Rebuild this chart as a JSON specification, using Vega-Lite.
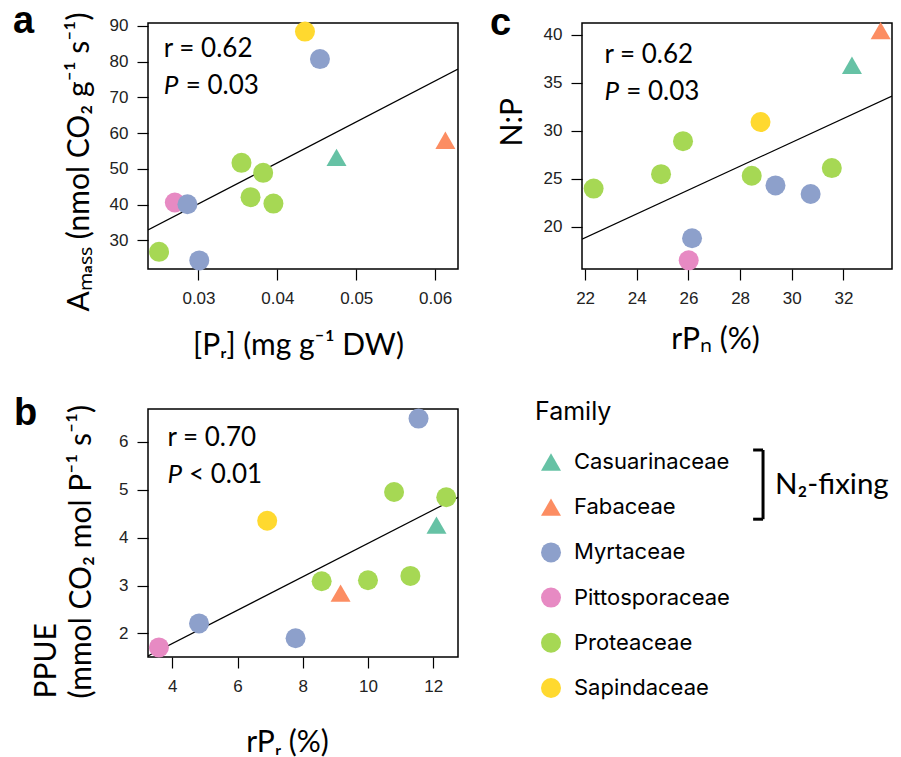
{
  "$schema": "https://vega.github.io/schema/vega-lite/v6.json",
  "padding": {"left": 12, "top": 2, "right": 5, "bottom": 0},
  "background": "white",
  "datasets": {
    "panelA": [
      {"Family": "Sapindaceae", "x": 0.0435, "y": 88.4},
      {"Family": "Myrtaceae", "x": 0.0454, "y": 80.7},
      {"Family": "Fabaceae", "x": 0.0613, "y": 58.0},
      {"Family": "Casuarinaceae", "x": 0.0475, "y": 53.2},
      {"Family": "Proteaceae", "x": 0.03545, "y": 51.7},
      {"Family": "Proteaceae", "x": 0.0382, "y": 48.9},
      {"Family": "Proteaceae", "x": 0.0366, "y": 42.1},
      {"Family": "Proteaceae", "x": 0.0395, "y": 40.3},
      {"Family": "Pittosporaceae", "x": 0.0270, "y": 40.6},
      {"Family": "Myrtaceae", "x": 0.0286, "y": 40.1},
      {"Family": "Proteaceae", "x": 0.0250, "y": 26.8},
      {"Family": "Myrtaceae", "x": 0.0301, "y": 24.4}
    ],
    "panelC": [
      {"Family": "Fabaceae", "x": 33.44, "y": 40.4},
      {"Family": "Casuarinaceae", "x": 32.33, "y": 36.8},
      {"Family": "Sapindaceae", "x": 28.79, "y": 30.9},
      {"Family": "Proteaceae", "x": 25.79, "y": 28.9},
      {"Family": "Proteaceae", "x": 24.94, "y": 25.47},
      {"Family": "Proteaceae", "x": 22.33, "y": 23.97},
      {"Family": "Proteaceae", "x": 28.45, "y": 25.3},
      {"Family": "Myrtaceae", "x": 29.37, "y": 24.3},
      {"Family": "Myrtaceae", "x": 30.73, "y": 23.4},
      {"Family": "Proteaceae", "x": 31.55, "y": 26.1},
      {"Family": "Myrtaceae", "x": 26.14, "y": 18.8},
      {"Family": "Pittosporaceae", "x": 26.01, "y": 16.5}
    ],
    "panelB": [
      {"Family": "Myrtaceae", "x": 11.55, "y": 6.48},
      {"Family": "Proteaceae", "x": 10.8, "y": 4.95},
      {"Family": "Proteaceae", "x": 12.4, "y": 4.84},
      {"Family": "Sapindaceae", "x": 6.91, "y": 4.35},
      {"Family": "Casuarinaceae", "x": 12.1, "y": 4.26},
      {"Family": "Proteaceae", "x": 8.58, "y": 3.09},
      {"Family": "Proteaceae", "x": 10.0, "y": 3.11},
      {"Family": "Proteaceae", "x": 11.3, "y": 3.2},
      {"Family": "Fabaceae", "x": 9.16, "y": 2.84},
      {"Family": "Myrtaceae", "x": 4.82, "y": 2.21},
      {"Family": "Myrtaceae", "x": 7.78, "y": 1.9},
      {"Family": "Pittosporaceae", "x": 3.59, "y": 1.71}
    ],
    "fitA": [{"x": 0.0236, "y": 32.9}, {"x": 0.0629, "y": 77.9}],
    "fitC": [{"x": 21.88, "y": 18.7}, {"x": 33.88, "y": 33.6}],
    "fitB": [{"x": 3.255, "y": 1.53}, {"x": 12.76, "y": 4.84}],
    "families": [
      {"Family": "Casuarinaceae"},
      {"Family": "Fabaceae"},
      {"Family": "Myrtaceae"},
      {"Family": "Pittosporaceae"},
      {"Family": "Proteaceae"},
      {"Family": "Sapindaceae"}
    ]
  },
  "config": {
    "view": {"stroke": "black", "strokeWidth": 1.5},
    "axis": {
      "grid": false, "domain": false, "tickColor": "black", "tickSize": 11, "tickWidth": 1.2,
      "labelFont": "Liberation Sans", "labelFontSize": 17, "labelColor": "#222", "labelPadding": 9,
      "labelFlush": false, "labelOverlap": false,
      "titleFont": "Lato", "titleFontSize": 30, "titleFontWeight": "normal", "titleColor": "black"
    },
    "axisX": {"labelPadding": 10},
    "title": {"anchor": "start", "frame": "group", "baseline": "alphabetic", "offset": 4, "color": "black"},
    "text": {"font": "Lato", "fontSize": 26, "color": "black"}
  },
  "vconcat": [
    {
      "hconcat": [
        {
          "width": 310, "height": 246,
          "title": {"text": "a", "font": "Liberation Sans", "fontSize": 38, "fontWeight": "bold", "dx": -135, "dy": 33},
          "layer": [
            {
              "data": {"name": "fitA"},
              "mark": {"type": "line", "color": "black", "strokeWidth": 1.2, "clip": true},
              "encoding": {
                "x": {"field": "x", "type": "quantitative", "scale": {"domain": [0.0236, 0.0629], "nice": false, "zero": false},
                  "axis": {"values": [0.03, 0.04, 0.05, 0.06], "format": ".2f", "title": "[Pᵣ] (mg g⁻¹ DW)", "titleX": 150, "titleY": 85, "titleBaseline": "alphabetic", "titleAlign": "center"}},
                "y": {"field": "y", "type": "quantitative", "scale": {"domain": [22, 90.8], "nice": false, "zero": false},
                  "axis": {"values": [30, 40, 50, 60, 70, 80, 90], "title": "Aₘₐₛₛ (nmol CO₂ g⁻¹ s⁻¹)", "titleAngle": 270, "titleAlign": "left", "titleBaseline": "alphabetic", "titleX": -60, "titleY": 288}}
              }
            },
            {
              "data": {"name": "panelA"},
              "mark": {"type": "point", "filled": true, "opacity": 1, "strokeWidth": 0},
              "encoding": {
                "x": {"field": "x", "type": "quantitative"},
                "y": {"field": "y", "type": "quantitative"},
                "color": {"field": "Family", "type": "nominal", "legend": null,
                  "scale": {"domain": ["Casuarinaceae", "Fabaceae", "Myrtaceae", "Pittosporaceae", "Proteaceae", "Sapindaceae"], "range": ["#66c2a5", "#fc8d62", "#8da0cb", "#e78ac3", "#a6d854", "#ffd92f"]}},
                "shape": {"field": "Family", "type": "nominal", "legend": null,
                  "scale": {"domain": ["Casuarinaceae", "Fabaceae", "Myrtaceae", "Pittosporaceae", "Proteaceae", "Sapindaceae"], "range": ["triangle-up", "triangle-up", "circle", "circle", "circle", "circle"]}},
                "size": {"field": "Family", "type": "nominal", "legend": null,
                  "scale": {"domain": ["Casuarinaceae", "Fabaceae", "Myrtaceae", "Pittosporaceae", "Proteaceae", "Sapindaceae"], "range": [400, 400, 256, 256, 256, 256]}}
              }
            },
            {"data": {"values": [{}]}, "mark": {"type": "text", "text": "r = 0.62", "align": "left", "baseline": "middle"},
             "encoding": {"x": {"datum": 0.0256}, "y": {"datum": 83.6}}},
            {"data": {"values": [{}]}, "mark": {"type": "text", "text": "P", "fontStyle": "italic", "align": "left", "baseline": "middle"},
             "encoding": {"x": {"datum": 0.0256}, "y": {"datum": 73.2}}},
            {"data": {"values": [{}]}, "mark": {"type": "text", "text": "= 0.03", "align": "left", "baseline": "middle"},
             "encoding": {"x": {"datum": 0.02839}, "y": {"datum": 73.2}}}
          ]
        },
        {
          "width": 310, "height": 246,
          "title": {"text": "c", "font": "Liberation Sans", "fontSize": 38, "fontWeight": "bold", "dx": -92, "dy": 25},
          "layer": [
            {
              "data": {"name": "fitC"},
              "mark": {"type": "line", "color": "black", "strokeWidth": 1.2, "clip": true},
              "encoding": {
                "x": {"field": "x", "type": "quantitative", "scale": {"domain": [21.88, 33.88], "nice": false, "zero": false},
                  "axis": {"values": [22, 24, 26, 28, 30, 32], "title": "rPₙ (%)", "titleX": 133, "titleY": 79, "titleBaseline": "alphabetic", "titleAlign": "center"}},
                "y": {"field": "y", "type": "quantitative", "scale": {"domain": [15.6, 41.2], "nice": false, "zero": false},
                  "axis": {"values": [20, 25, 30, 35, 40], "title": "N:P", "titleAngle": 270, "titleAlign": "left", "titleBaseline": "alphabetic", "titleX": -61, "titleY": 123}}
              }
            },
            {
              "data": {"name": "panelC"},
              "mark": {"type": "point", "filled": true, "opacity": 1, "strokeWidth": 0},
              "encoding": {
                "x": {"field": "x", "type": "quantitative"},
                "y": {"field": "y", "type": "quantitative"},
                "color": {"field": "Family", "type": "nominal", "legend": null},
                "shape": {"field": "Family", "type": "nominal", "legend": null},
                "size": {"field": "Family", "type": "nominal", "legend": null}
              }
            },
            {"data": {"values": [{}]}, "mark": {"type": "text", "text": "r = 0.62", "align": "left", "baseline": "middle"},
             "encoding": {"x": {"datum": 22.75}, "y": {"datum": 37.85}}},
            {"data": {"values": [{}]}, "mark": {"type": "text", "text": "P", "fontStyle": "italic", "align": "left", "baseline": "middle"},
             "encoding": {"x": {"datum": 22.75}, "y": {"datum": 34.0}}},
            {"data": {"values": [{}]}, "mark": {"type": "text", "text": "= 0.03", "align": "left", "baseline": "middle"},
             "encoding": {"x": {"datum": 23.59}, "y": {"datum": 34.0}}}
          ]
        }
      ],
      "spacing": 30
    },
    {
      "hconcat": [
        {
          "width": 310, "height": 248,
          "title": {"text": "b", "font": "Liberation Sans", "fontSize": 38, "fontWeight": "bold", "dx": -134, "dy": 32},
          "layer": [
            {
              "data": {"name": "fitB"},
              "mark": {"type": "line", "color": "black", "strokeWidth": 1.2, "clip": true},
              "encoding": {
                "x": {"field": "x", "type": "quantitative", "scale": {"domain": [3.255, 12.76], "nice": false, "zero": false},
                  "axis": {"values": [4, 6, 8, 10, 12], "title": "rPᵣ (%)", "titleX": 139, "titleY": 94, "titleBaseline": "alphabetic", "titleAlign": "center"}},
                "y": {"field": "y", "type": "quantitative", "scale": {"domain": [1.51, 6.68], "nice": false, "zero": false},
                  "axis": {"values": [2, 3, 4, 5, 6], "title": ["PPUE", "(mmol CO₂ mol P⁻¹ s⁻¹)"], "titleAngle": 270, "titleAlign": "left", "titleBaseline": "alphabetic", "titleLineHeight": 35, "titleX": -93, "titleY": 289}}
              }
            },
            {
              "data": {"name": "panelB"},
              "mark": {"type": "point", "filled": true, "opacity": 1, "strokeWidth": 0},
              "encoding": {
                "x": {"field": "x", "type": "quantitative"},
                "y": {"field": "y", "type": "quantitative"},
                "color": {"field": "Family", "type": "nominal", "legend": null},
                "shape": {"field": "Family", "type": "nominal", "legend": null},
                "size": {"field": "Family", "type": "nominal", "legend": null}
              }
            },
            {"data": {"values": [{}]}, "mark": {"type": "text", "text": "r = 0.70", "align": "left", "baseline": "middle"},
             "encoding": {"x": {"datum": 3.85}, "y": {"datum": 6.08}}},
            {"data": {"values": [{}]}, "mark": {"type": "text", "text": "P", "fontStyle": "italic", "align": "left", "baseline": "middle"},
             "encoding": {"x": {"datum": 3.85}, "y": {"datum": 5.31}}},
            {"data": {"values": [{}]}, "mark": {"type": "text", "text": "< 0.01", "align": "left", "baseline": "middle"},
             "encoding": {"x": {"datum": 4.51}, "y": {"datum": 5.31}}}
          ]
        },
        {
          "width": 330, "height": 300,
          "view": {"stroke": null},
          "title": {"text": "Family", "font": "Inter", "fontSize": 25, "fontWeight": "normal", "dy": 20},
          "layer": [
            {
              "data": {"name": "families"},
              "mark": {"type": "point", "filled": true, "opacity": 1, "strokeWidth": 0},
              "encoding": {
                "x": {"datum": 4.85, "type": "quantitative", "scale": {"domain": [0, 100], "nice": false, "zero": false}, "axis": null},
                "y": {"field": "Family", "type": "nominal", "axis": null,
                  "scale": {"type": "point", "padding": 0, "range": [53, 279], "domain": ["Casuarinaceae", "Fabaceae", "Myrtaceae", "Pittosporaceae", "Proteaceae", "Sapindaceae"]}},
                "color": {"field": "Family", "type": "nominal", "legend": null},
                "shape": {"field": "Family", "type": "nominal", "legend": null},
                "size": {"field": "Family", "type": "nominal", "legend": null}
              }
            },
            {
              "data": {"name": "families"},
              "mark": {"type": "text", "align": "left", "baseline": "middle", "font": "Inter", "fontSize": 22},
              "encoding": {
                "x": {"datum": 11.8},
                "y": {"field": "Family", "type": "nominal"},
                "text": {"field": "Family"}
              }
            },
            {
              "data": {"values": [{}]},
              "mark": {"type": "rule", "color": "black", "strokeWidth": 3, "yOffset": -12, "y2Offset": 12},
              "encoding": {"x": {"datum": 69.1}, "y": {"datum": "Casuarinaceae"}, "y2": {"datum": "Fabaceae"}}
            },
            {
              "data": {"values": [{}]},
              "mark": {"type": "rule", "color": "black", "strokeWidth": 3, "yOffset": -12},
              "encoding": {"x": {"datum": 66.1}, "x2": {"datum": 69.1}, "y": {"datum": "Casuarinaceae"}}
            },
            {
              "data": {"values": [{}]},
              "mark": {"type": "rule", "color": "black", "strokeWidth": 3, "yOffset": 12},
              "encoding": {"x": {"datum": 66.1}, "x2": {"datum": 69.1}, "y": {"datum": "Fabaceae"}}
            },
            {
              "data": {"values": [{}]},
              "mark": {"type": "text", "text": "N₂-fixing", "align": "left", "baseline": "middle", "fontSize": 29.5, "dy": 22.6},
              "encoding": {"x": {"datum": 72.7}, "y": {"datum": "Casuarinaceae"}}
            }
          ]
        }
      ],
      "spacing": 76
    }
  ],
  "spacing": 32
}
